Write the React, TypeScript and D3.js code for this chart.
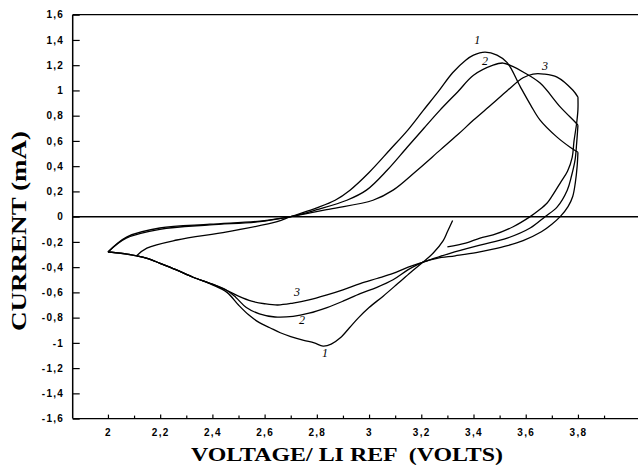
import * as d3 from 'd3';
import { useEffect, useRef } from 'react';

type Pt = [number, number]; // [volts, mA]

// tick values
const yTicks = [1.6, 1.4, 1.2, 1, 0.8, 0.6, 0.4, 0.2, 0, -0.2, -0.4, -0.6, -0.8, -1, -1.2, -1.4, -1.6];
const xTicks = [2, 2.2, 2.4, 2.6, 2.8, 3, 3.2, 3.4, 3.6, 3.8];
const xMinorTicks = [2.1, 2.3, 2.5, 2.7, 2.9, 3.1, 3.3, 3.5, 3.7, 3.9];

// sweeps, in the order they were recorded
const cathodic1: Pt[] = [
  [3.32, -0.03], [3.3, -0.12], [3.284, -0.19], [3.245, -0.29], [3.207, -0.36], [3.16, -0.44],
  [3.11, -0.53], [3.054, -0.63], [3.0, -0.72], [2.96, -0.8], [2.925, -0.88], [2.89, -0.96],
  [2.855, -1.01], [2.824, -1.025], [2.79, -1.0], [2.75, -0.98], [2.7, -0.95], [2.66, -0.92],
  [2.62, -0.88], [2.58, -0.84], [2.54, -0.78], [2.5, -0.7], [2.456, -0.6], [2.4, -0.54],
  [2.326, -0.48], [2.26, -0.42], [2.2, -0.37], [2.15, -0.33], [2.11, -0.31],
];
const anodic1: Pt[] = [
  [2.11, -0.31], [2.149, -0.25], [2.264, -0.185], [2.456, -0.12], [2.648, -0.04], [2.7, 0.0],
  [2.8, 0.07], [2.87, 0.13], [2.927, 0.21], [3.0, 0.35], [3.08, 0.53], [3.15, 0.69],
  [3.207, 0.84], [3.265, 0.99], [3.32, 1.14], [3.37, 1.24], [3.4, 1.28], [3.444, 1.304],
  [3.49, 1.28], [3.529, 1.22], [3.579, 1.03], [3.62, 0.88], [3.655, 0.765], [3.72, 0.63],
  [3.77, 0.55], [3.8, 0.51],
];
const cathodic2: Pt[] = [
  [3.8, 0.51], [3.797, 0.4], [3.79, 0.27], [3.78, 0.16], [3.762, 0.08], [3.732, 0.0],
  [3.7, -0.06], [3.66, -0.12], [3.59, -0.19], [3.53, -0.23], [3.47, -0.26], [3.41, -0.285],
  [3.33, -0.31], [3.26, -0.33], [3.207, -0.36], [3.15, -0.42], [3.092, -0.5], [3.03, -0.56],
  [2.966, -0.61], [2.9, -0.67], [2.839, -0.72], [2.77, -0.765], [2.709, -0.79], [2.64, -0.795],
  [2.58, -0.77], [2.53, -0.72], [2.49, -0.64], [2.456, -0.585], [2.4, -0.535], [2.326, -0.48],
  [2.26, -0.42], [2.2, -0.37], [2.15, -0.33], [2.11, -0.31], [2.05, -0.29], [2.0, -0.28],
];
const anodic2: Pt[] = [
  [2.0, -0.28], [2.073, -0.16], [2.199, -0.09], [2.391, -0.06], [2.582, -0.035], [2.7, 0.0],
  [2.8, 0.055], [2.915, 0.13], [2.99, 0.21], [3.07, 0.37], [3.146, 0.55], [3.21, 0.7],
  [3.27, 0.84], [3.34, 0.99], [3.4, 1.12], [3.475, 1.2], [3.513, 1.217], [3.55, 1.19],
  [3.59, 1.146], [3.655, 1.058], [3.732, 0.87], [3.789, 0.75], [3.8, 0.725],
];
const cathodic3: Pt[] = [
  [3.8, 0.725], [3.795, 0.58], [3.789, 0.45], [3.775, 0.32], [3.759, 0.21], [3.72, 0.076],
  [3.674, 0.0], [3.617, -0.09], [3.529, -0.17], [3.425, -0.225], [3.31, -0.29], [3.207, -0.36],
  [3.15, -0.4], [3.092, -0.45], [3.03, -0.49], [2.966, -0.53], [2.9, -0.58], [2.839, -0.62],
  [2.77, -0.66], [2.709, -0.685], [2.65, -0.7], [2.6, -0.69], [2.55, -0.67], [2.5, -0.63],
  [2.456, -0.585], [2.4, -0.535], [2.326, -0.48], [2.26, -0.42], [2.2, -0.37], [2.15, -0.33],
  [2.11, -0.31], [2.05, -0.29], [2.0, -0.28],
];
const anodic3: Pt[] = [
  [2.0, -0.28], [2.07, -0.17], [2.199, -0.1], [2.391, -0.065], [2.582, -0.04], [2.7, 0.0],
  [2.85, 0.06], [3.015, 0.13], [3.092, 0.21], [3.18, 0.36], [3.272, 0.527], [3.34, 0.65],
  [3.4, 0.765], [3.47, 0.89], [3.53, 1.0], [3.59, 1.1], [3.628, 1.13], [3.67, 1.13],
  [3.72, 1.106], [3.78, 1.003], [3.8, 0.947],
];
const finalReturn: Pt[] = [
  [3.8, 0.947], [3.8, 0.85], [3.795, 0.74], [3.785, 0.6], [3.778, 0.47], [3.76, 0.36],
  [3.732, 0.266], [3.7, 0.16], [3.682, 0.108], [3.65, 0.05], [3.617, 0.0], [3.552, -0.08],
  [3.475, -0.145], [3.425, -0.17], [3.37, -0.21], [3.3, -0.24],
];
const sweeps = [cathodic1, anodic1, cathodic2, anodic2, cathodic3, anodic3, finalReturn];

// hand-written cycle numbers next to the peaks
const cycleLabels = ['1', '2', '3', '1', '2', '3'];
const cycleLabelV = [3.414, 3.444, 3.674, 2.831, 2.743, 2.724];
const cycleLabelI = [1.37, 1.2, 1.16, -1.11, -0.85, -0.63];

const drawChart = (container: HTMLElement) => {
  const width = 638;
  const height = 470;
  const left = 72.7;
  const right = 638;
  const top = 14.7;
  const bottom = 418.6;

  const x = d3.scaleLinear().domain([1.865, 4.03]).range([left, right]);
  const y = d3.scaleLinear().domain([-1.6, 1.6]).range([bottom, top]);
  const fmt = (d: d3.NumberValue) => String(+(+d).toFixed(1)).replace('.', ',');

  const svg = d3.select(container).append('svg')
    .attr('width', width)
    .attr('height', height)
    .style('position', 'absolute')
    .style('left', '0px')
    .style('top', '0px')
    .style('background', '#fff');

  const yAxis = d3.axisLeft(y).tickValues(yTicks).tickSize(-7).tickPadding(8.5).tickFormat(fmt);
  const gy = svg.append('g').attr('transform', `translate(${left},0)`).call(yAxis);
  gy.select('.domain').remove();

  const xAxis = d3.axisBottom(x).tickValues(xTicks).tickSize(-4).tickPadding(10.5).tickFormat(fmt);
  const gx = svg.append('g').attr('transform', `translate(0,${bottom})`).call(xAxis);
  gx.select('.domain').remove();

  const xMinor = d3.axisBottom(x).tickValues(xMinorTicks).tickSize(-3).tickFormat(() => '');
  const gm = svg.append('g').attr('transform', `translate(0,${bottom})`).call(xMinor);
  gm.select('.domain').remove();

  svg.selectAll('.tick line').attr('stroke', '#000').attr('stroke-width', 1.2);
  svg.selectAll('.tick text')
    .attr('fill', '#000')
    .attr('font-family', '"Liberation Sans", Arial, sans-serif')
    .attr('font-weight', 'bold')
    .attr('font-size', 10)
    .attr('letter-spacing', 1.3);

  // frame: left axis, top, bottom, and the zero line
  svg.append('line').attr('x1', left).attr('x2', left).attr('y1', top).attr('y2', bottom)
    .attr('stroke', '#000').attr('stroke-width', 1.5);
  svg.append('line').attr('x1', left).attr('x2', right).attr('y1', y(1.6)).attr('y2', y(1.6))
    .attr('stroke', '#000').attr('stroke-width', 1.3);
  svg.append('line').attr('x1', left).attr('x2', right).attr('y1', y(-1.6)).attr('y2', y(-1.6))
    .attr('stroke', '#000').attr('stroke-width', 1.3);
  svg.append('line').attr('x1', left).attr('x2', right).attr('y1', y(0)).attr('y2', y(0))
    .attr('stroke', '#000').attr('stroke-width', 1.5);

  const line = d3.line<Pt>()
    .curve(d3.curveCatmullRom.alpha(0.5))
    .x(d => x(d[0]))
    .y(d => y(d[1]));

  svg.append('g')
    .selectAll('path')
    .data(sweeps)
    .join('path')
    .attr('fill', 'none')
    .attr('stroke', '#000')
    .attr('stroke-width', 1.3)
    .attr('stroke-linejoin', 'round')
    .attr('d', d => line(d));

  svg.append('g')
    .selectAll('text')
    .data(cycleLabels)
    .join('text')
    .attr('x', (d, i) => x(cycleLabelV[i]))
    .attr('y', (d, i) => y(cycleLabelI[i]))
    .attr('text-anchor', 'middle')
    .attr('font-family', '"Liberation Serif", serif')
    .attr('font-style', 'italic')
    .attr('font-size', 12)
    .attr('fill', '#000')
    .text(d => d);

  svg.append('text')
    .attr('x', 347)
    .attr('y', 461)
    .attr('text-anchor', 'middle')
    .attr('font-family', '"Liberation Serif", "Times New Roman", serif')
    .attr('font-weight', 'bold')
    .attr('font-size', 18.5)
    .attr('textLength', 312)
    .attr('lengthAdjust', 'spacingAndGlyphs')
    .style('white-space', 'pre')
    .attr('fill', '#000')
    .text('VOLTAGE/ LI REF  (VOLTS)');

  svg.append('text')
    .attr('transform', 'translate(26,231) rotate(-90)')
    .attr('text-anchor', 'middle')
    .attr('font-family', '"Liberation Serif", "Times New Roman", serif')
    .attr('font-weight', 'bold')
    .attr('font-size', 20)
    .attr('textLength', 200)
    .attr('lengthAdjust', 'spacingAndGlyphs')
    .attr('fill', '#000')
    .text('CURRENT (mA)');

  return svg.node();
};

export default function App() {
  const domRef = useRef<HTMLDivElement>(null);
  useEffect(() => {
    if (domRef.current) {
      drawChart(domRef.current);
    }
    return () => {
      d3.select(domRef.current).selectAll('svg').remove();
    };
  }, [domRef]);
  return <div ref={domRef}></div>;
}
